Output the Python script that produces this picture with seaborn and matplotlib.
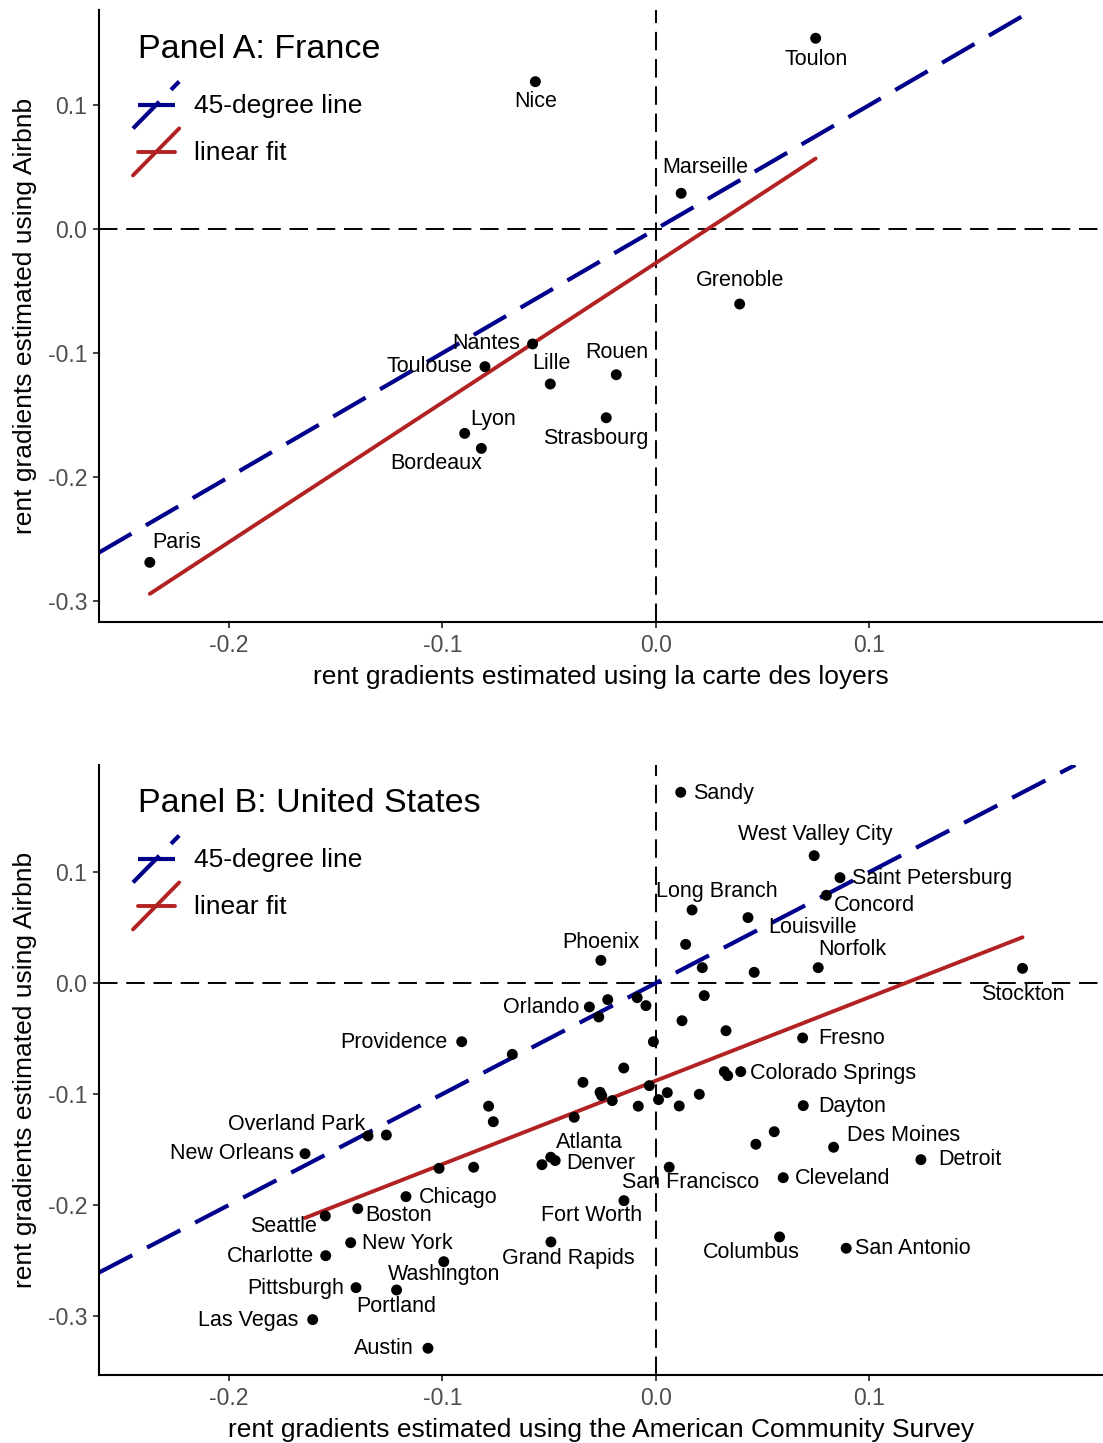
import numpy as np
import pandas as pd
import matplotlib
matplotlib.use("Agg")
import matplotlib.pyplot as plt
import seaborn as sns
from matplotlib.lines import Line2D
from matplotlib.legend_handler import HandlerBase

# ---------------- data ----------------
fr_city = ["Toulon", "Nice", "Marseille", "Grenoble", "Nantes", "Toulouse",
           "Lille", "Rouen", "Strasbourg", "Lyon", "Bordeaux", "Paris"]
fr_carte = [0.0748, -0.0565, 0.0118, 0.0392, -0.0578, -0.0801,
            -0.0495, -0.0186, -0.0233, -0.0896, -0.0818, -0.2371]
fr_airbnb = [0.1538, 0.1188, 0.0288, -0.0605, -0.0927, -0.1110,
             -0.1250, -0.1175, -0.1522, -0.1648, -0.1769, -0.2688]

us_city = ["Sandy", "West Valley City", "Saint Petersburg", "Concord", "Long Branch",
           "Louisville", "", "Phoenix", "", "", "Norfolk", "Stockton", "", "", "", "",
           "Orlando", "", "", "", "Fresno", "", "Providence", "", "",
           "Colorado Springs", "", "", "", "", "", "", "", "", "", "", "", "",
           "Dayton", "", "", "", "", "", "Des Moines", "Detroit", "Overland Park", "",
           "New Orleans", "", "", "Atlanta", "Denver", "", "San Francisco", "Cleveland",
           "Chicago", "Fort Worth", "Boston", "Seattle", "New York", "Grand Rapids",
           "Columbus", "San Antonio", "Charlotte", "Washington", "Pittsburgh", "Portland",
           "Las Vegas", "Austin"]
us_acs = [0.0116, 0.0741, 0.0862, 0.0798, 0.0169,
          0.0431, 0.0139, -0.0258, 0.0217, 0.0460, 0.0760, 0.1717, 0.0226, -0.0088, -0.0047, -0.0226,
          -0.0312, -0.0268, 0.0122, 0.0328, 0.0687, -0.0012, -0.0910, -0.0673, -0.0151,
          0.0397, 0.0320, 0.0336, -0.0342, -0.0031, -0.0262, -0.0254, -0.0205, -0.0083, 0.0012, 0.0053, 0.0109, 0.0203,
          0.0690, -0.0383, -0.0784, -0.0762, 0.0554, 0.0468, 0.0832, 0.1241, -0.1349, -0.1263,
          -0.1644, -0.1016, -0.0854, -0.0493, -0.0472, -0.0534, 0.0062, 0.0596,
          -0.1171, -0.0150, -0.1397, -0.1549, -0.1430, -0.0492,
          0.0579, 0.0891, -0.1547, -0.0994, -0.1405, -0.1215,
          -0.1608, -0.1068]
us_airbnb = [0.1718, 0.1147, 0.0949, 0.0790, 0.0658,
             0.0589, 0.0348, 0.0204, 0.0138, 0.0096, 0.0138, 0.0132, -0.0114, -0.0132, -0.0204, -0.0150,
             -0.0216, -0.0306, -0.0340, -0.0430, -0.0495, -0.0529, -0.0529, -0.0643, -0.0766,
             -0.0799, -0.0799, -0.0835, -0.0895, -0.0925, -0.0985, -0.1015, -0.1060, -0.1110, -0.1051, -0.0988, -0.1108, -0.1003,
             -0.1105, -0.1210, -0.1110, -0.1250, -0.1340, -0.1453, -0.1480, -0.1592, -0.1378, -0.1370,
             -0.1538, -0.1670, -0.1660, -0.1570, -0.1600, -0.1637, -0.1660, -0.1754,
             -0.1925, -0.1961, -0.2033, -0.2099, -0.2340, -0.2333,
             -0.2288, -0.2390, -0.2457, -0.2511, -0.2745, -0.2766,
             -0.3033, -0.3291]

x_ticks = [-0.2, -0.1, 0.0, 0.1]
y_ticks = [-0.3, -0.2, -0.1, 0.0, 0.1]
legend_labels = ["45-degree line", "linear fit"]
panel_titles = ["Panel A: France", "Panel B: United States"]
x_titles = ["rent gradients estimated using la carte des loyers",
            "rent gradients estimated using the American Community Survey"]
y_title = "rent gradients estimated using Airbnb"

# label placement (pixel offsets from the point, horizontal alignment)
fr_lab = {"Toulon": (0, -21, "center"), "Nice": (0, -20, "center"),
          "Marseille": (24, 26, "center"), "Grenoble": (0, 24, "center"),
          "Nantes": (-12, 0, "right"), "Toulouse": (-12, 0, "right"),
          "Lille": (1, 21, "center"), "Rouen": (1, 22, "center"),
          "Strasbourg": (-10, -21, "center"), "Lyon": (6, 14, "left"),
          "Bordeaux": (-45, -15, "center"), "Paris": (2, 20, "left")}
us_lab = {"Sandy": (12, -1, "left"), "West Valley City": (1, 21, "center"),
          "Saint Petersburg": (12, -1, "left"), "Concord": (8, -10, "left"),
          "Long Branch": (25, 18, "center"), "Louisville": (20, -10, "left"),
          "Phoenix": (0, 18, "center"), "Norfolk": (34, 18, "center"),
          "Stockton": (0, -26, "center"), "Fresno": (16, -1, "left"),
          "Orlando": (-10, -1, "right"), "Providence": (-14, -1, "right"),
          "Colorado Springs": (9, -2, "left"), "Dayton": (15, -1, "left"),
          "Des Moines": (13, 12, "left"), "Detroit": (17, 0, "left"),
          "Cleveland": (12, -1, "left"), "San Francisco": (21, -15, "center"),
          "Fort Worth": (-32, -15, "center"), "Columbus": (-28, -16, "center"),
          "San Antonio": (9, 0, "left"), "Grand Rapids": (17, -17, "center"),
          "Atlanta": (39, 15, "center"), "Denver": (11, -3, "left"),
          "Overland Park": (-3, 11, "right"), "New Orleans": (-11, 0, "right"),
          "Chicago": (13, -1, "left"), "Boston": (8, -7, "left"),
          "Seattle": (-8, -11, "right"), "New York": (11, -1, "left"),
          "Charlotte": (-12, -1, "right"), "Washington": (0, -13, "center"),
          "Pittsburgh": (-12, -1, "right"), "Portland": (0, -17, "center"),
          "Las Vegas": (-14, -1, "right"), "Austin": (-14, 0, "right")}

fr = pd.DataFrame({"city": fr_city, "x": fr_carte, "y": fr_airbnb})
us = pd.DataFrame({"city": us_city, "x": us_acs, "y": us_airbnb})

# ---------------- style ----------------
sns.set_theme(style="ticks")
plt.rcParams["font.family"] = ["Liberation Sans", "DejaVu Sans"]
plt.rcParams["text.color"] = "black"

W, H = 1103, 1443
fig = plt.figure(figsize=(W / 100, H / 100), dpi=100)

BLUE = "#00008B"
RED = "#B22222"
GREY = "#4D4D4D"


class KeyHandler(HandlerBase):
    def create_artists(self, legend, orig, xd, yd, w, h, fs, trans):
        x0, x1 = -xd, -xd + w
        y0, y1 = -yd, -yd + h
        diag = Line2D([x0, x1], [y0, y1])
        diag.update_from(orig)
        hor = Line2D([x0 + 0.1 * w, x1 - 0.1 * w], [(y0 + y1) / 2] * 2)
        hor.update_from(orig)
        for a in (diag, hor):
            a.set_transform(trans)
        return [diag, hor]


def panel(df, labs, px_top, px_bot, xlim, ylim, title, xtitle, title_y, leg_top):
    ax = fig.add_axes([99 / W, 1 - px_bot / H, (W - 99) / W, (px_bot - px_top) / H])
    ax.axhline(0, color="black", lw=1.4, ls=(0, (9.5, 4.5)), zorder=1)
    ax.axvline(0, color="black", lw=1.4, ls=(0, (9.5, 4.5)), zorder=1)
    ax.axline((0, 0), slope=1, color=BLUE, lw=3.0, ls=(0, (9, 4)), zorder=2)
    sns.regplot(data=df, x="x", y="y", ax=ax, scatter=False, ci=None,
                line_kws=dict(color=RED, lw=2.8, zorder=2))
    sns.scatterplot(data=df, x="x", y="y", ax=ax, color="black", s=62,
                    edgecolor="none", zorder=3, legend=False)
    for _, r in df.iterrows():
        if r.city in labs:
            dx, dy, ha = labs[r.city]
            ax.annotate(r.city, (r.x, r.y), xytext=(dx, dy), textcoords="offset pixels",
                        ha=ha, va="center", fontsize=15.5, color="black", zorder=4)
    ax.set_xlim(*xlim)
    ax.set_ylim(*ylim)
    ax.set_xticks(x_ticks)
    ax.set_xticklabels([f"{v:.1f}" for v in x_ticks])
    ax.set_yticks(y_ticks)
    ax.set_yticklabels([f"{v:.1f}" for v in y_ticks])
    ax.tick_params(axis="both", labelsize=16.5, labelcolor=GREY, length=4.5, width=1.3,
                   color="#333333", pad=4)
    for s in ("top", "right"):
        ax.spines[s].set_visible(False)
    for s in ("left", "bottom"):
        ax.spines[s].set_linewidth(1.5)
        ax.spines[s].set_color("black")
    ax.set_xlabel(xtitle, fontsize=19, color="black", labelpad=6)
    ax.set_ylabel(y_title, fontsize=19, color="black", labelpad=8)
    fig.text(138 / W, 1 - title_y / H, title, fontsize=24.5, ha="left", va="center",
             color="black")
    handles = [Line2D([], [], color=BLUE, lw=3.0, ls=(0, (9, 4))),
               Line2D([], [], color=RED, lw=2.8)]
    leg = ax.legend(handles, legend_labels, loc="upper left",
                    bbox_to_anchor=(133 / W, 1 - leg_top / H), bbox_transform=fig.transFigure,
                    frameon=False, fontsize=19, handlelength=1.75, handleheight=2.36,
                    labelspacing=0.0, handletextpad=0.57, borderpad=0, borderaxespad=0,
                    handler_map={Line2D: KeyHandler()})
    for t in leg.get_texts():
        t.set_color("black")
    return ax


panel(fr, fr_lab, 10, 622, (-0.2609, 0.2094), (-0.3169, 0.1766),
      panel_titles[0], x_titles[0], 50, 81.5)
panel(us, us_lab, 765, 1375, (-0.2609, 0.2094), (-0.3532, 0.1964),
      panel_titles[1], x_titles[1], 804, 835.5)

fig.savefig("out.png", dpi=100)
